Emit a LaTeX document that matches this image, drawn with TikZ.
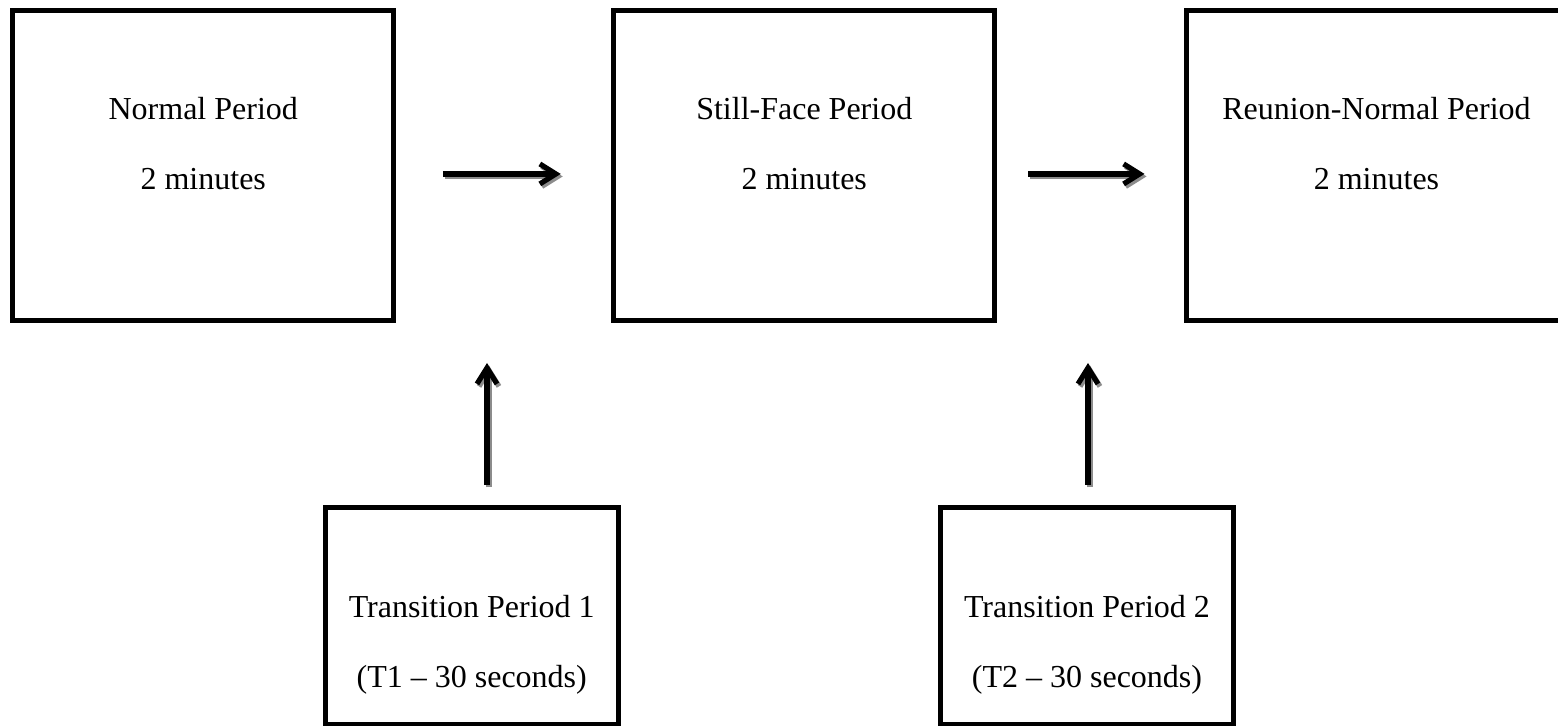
\documentclass[tikz,border=0pt]{standalone}
\usepackage{fontspec}
\setmainfont{Liberation Serif}
\usetikzlibrary{arrows.meta}
\tikzset{
  periodbox/.style={draw, line width=2.5pt, outer sep=0pt, inner sep=0pt,
                    minimum width=190.5pt, minimum height=154.75pt},
  transbox/.style={periodbox, minimum width=146.75pt, minimum height=108.5pt},
  phasetext/.style={anchor=base, inner sep=0pt, font=\fontsize{16}{19}\selectfont},
  flow/.style={line width=2.6pt, -{Straight Barb[length=8pt,width=10pt]}},
  flowshadow/.style={flow, draw=black!45, transform canvas={shift={(1pt,-1.25pt)}}}
}

\begin{document}
\begin{tikzpicture}[x=0.5pt, y=-0.5pt]
    \useasboundingbox (0,0) rectangle (1558,726);
    % the three periods
    \node[periodbox] (normal) at (203.25,165.75) {};
    \node[periodbox] (still) at (804.25,165.75) {};
    \node[periodbox] (reunion) at (1376.5,165.75) {};
    % the two transitions
    \node[transbox] (trans1) at (471.75,616) {};
    \node[transbox] (trans2) at (1087,616) {};
    \node[phasetext] (normalname) at ([yshift=-54.5pt]normal.north) {Normal Period};
    \node[phasetext] (normaltime) at ([yshift=-89.5pt]normal.north) {2 minutes};
    \node[phasetext] (stillname) at ([yshift=-54.5pt]still.north) {Still-Face Period};
    \node[phasetext] (stilltime) at ([yshift=-89.5pt]still.north) {2 minutes};
    \node[phasetext] (reunionname) at ([yshift=-54.5pt]reunion.north) {Reunion-Normal Period};
    \node[phasetext] (reuniontime) at ([yshift=-89.5pt]reunion.north) {2 minutes};
    \node[phasetext] (transname1) at ([yshift=-55pt]trans1.north) {Transition Period 1};
    \node[phasetext] (transtime1) at ([yshift=-90pt]trans1.north) {(T1 -- 30 seconds)};
    \node[phasetext] (transname2) at ([yshift=-55pt]trans2.north) {Transition Period 2};
    \node[phasetext] (transtime2) at ([yshift=-90pt]trans2.north) {(T2 -- 30 seconds)};
    % arrows with their shadows
    \coordinate (up1) at (487,363);
    \coordinate (up2) at (1088,363);
    \draw[flowshadow, shorten <=24.5pt, shorten >=26.5pt] ([yshift=-4.1pt]normal.east) -- ([yshift=-4.1pt]still.west);
    \draw[flow, shorten <=24.5pt, shorten >=26.5pt] ([yshift=-4.1pt]normal.east) -- ([yshift=-4.1pt]still.west);
    \draw[flowshadow, shorten <=16.75pt, shorten >=20.75pt] ([yshift=-4.1pt]still.east) -- ([yshift=-4.1pt]reunion.west);
    \draw[flow, shorten <=16.75pt, shorten >=20.75pt] ([yshift=-4.1pt]still.east) -- ([yshift=-4.1pt]reunion.west);
    \draw[flowshadow, shorten <=11.25pt] (up1 |- trans1.north) -- (up1);
    \draw[flow, shorten <=11.25pt] (up1 |- trans1.north) -- (up1);
    \draw[flowshadow, shorten <=11.25pt] (up2 |- trans2.north) -- (up2);
    \draw[flow, shorten <=11.25pt] (up2 |- trans2.north) -- (up2);
\end{tikzpicture}
\end{document}
